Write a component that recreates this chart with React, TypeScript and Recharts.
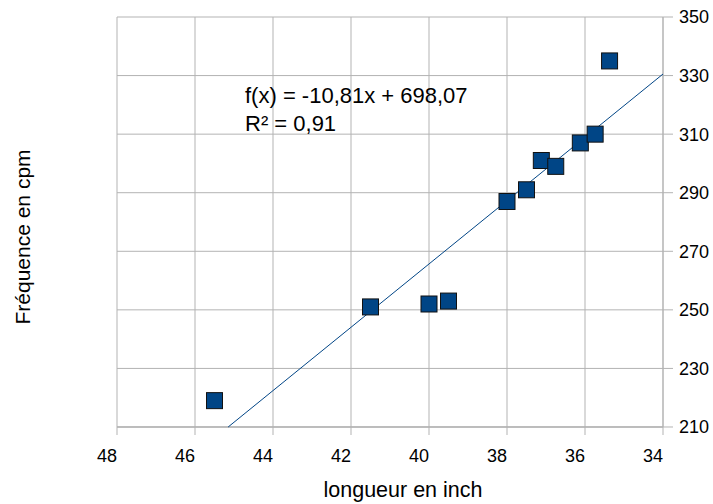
import React from "react";
import {
  ScatterChart,
  Scatter,
  XAxis,
  YAxis,
  CartesianGrid,
  Customized,
} from "recharts";

// longueur (inch) / fréquence (cpm)
const longueurs = [45.5, 41.5, 40.0, 39.5, 38.0, 37.5, 37.12, 36.75, 36.12, 35.74, 35.37];
const frequences = [219, 251, 252, 253, 287, 291, 301, 299, 307, 310, 335];

const xTicks = [48, 46, 44, 42, 40, 38, 36, 34];
const yTicks = [210, 230, 250, 270, 290, 310, 330, 350];

// courbe de tendance affichée : f(x) = -10,81x + 698,07
const pente = -10.81;
const origine = 698.07;
const tendanceX = [45.15, 34];

const points = longueurs.map((x, i) => ({ x, y: frequences[i] }));
const tendance = tendanceX.map((x) => ({ x, y: pente * x + origine }));

const BLEU = "#004586";
const GRIS = "#b3b3b3";
const FONT = "'Liberation Sans', Arial, sans-serif";

const Carre = (props: any) => {
  const { cx, cy } = props;
  if (cx == null || cy == null) return <g />;
  return (
    <rect x={cx - 8} y={cy - 8} width={16} height={16} fill={BLEU} stroke="#111" strokeWidth={1} />
  );
};

const Rien = () => <g />;

const Textes = () => (
  <g fontFamily={FONT} fill="#000">
    <text x={245} y={103} fontSize={22}>f(x) = -10,81x + 698,07</text>
    <text x={245} y={131} fontSize={22}>R² = 0,91</text>
    <text x={403} y={497} fontSize={21.5} textAnchor="middle">longueur en inch</text>
    <text x={30} y={237} fontSize={21} textAnchor="middle" transform="rotate(-90 30 237)">
      Fréquence en cpm
    </text>
  </g>
);

export default function App() {
  return (
    <div style={{ position: "absolute", left: 0, top: 0, background: "#fff" }}>
      <ScatterChart
        width={713}
        height={504}
        margin={{ top: 17, right: 0, bottom: 0, left: 117 }}
      >
        <CartesianGrid stroke={GRIS} strokeWidth={1} />
        <XAxis
          type="number"
          dataKey="x"
          domain={[34, 48]}
          reversed
          ticks={xTicks}
          interval={0}
          height={77}
          stroke={GRIS}
          tickSize={8}
          tickMargin={14}
          tick={{ fill: "#000", fontSize: 18, fontFamily: FONT, dx: -10 }}
        />
        <YAxis
          type="number"
          dataKey="y"
          orientation="right"
          domain={[210, 350]}
          ticks={yTicks}
          interval={0}
          width={50}
          stroke={GRIS}
          tickSize={10}
          tickMargin={6}
          tick={{ fill: "#000", fontSize: 18, fontFamily: FONT, textAnchor: "start" }}
        />
        <Scatter
          data={tendance}
          line={{ stroke: BLEU, strokeWidth: 1 }}
          shape={Rien}
          isAnimationActive={false}
        />
        <Scatter data={points} shape={Carre} isAnimationActive={false} />
        <Customized component={Textes} />
      </ScatterChart>
    </div>
  );
}
